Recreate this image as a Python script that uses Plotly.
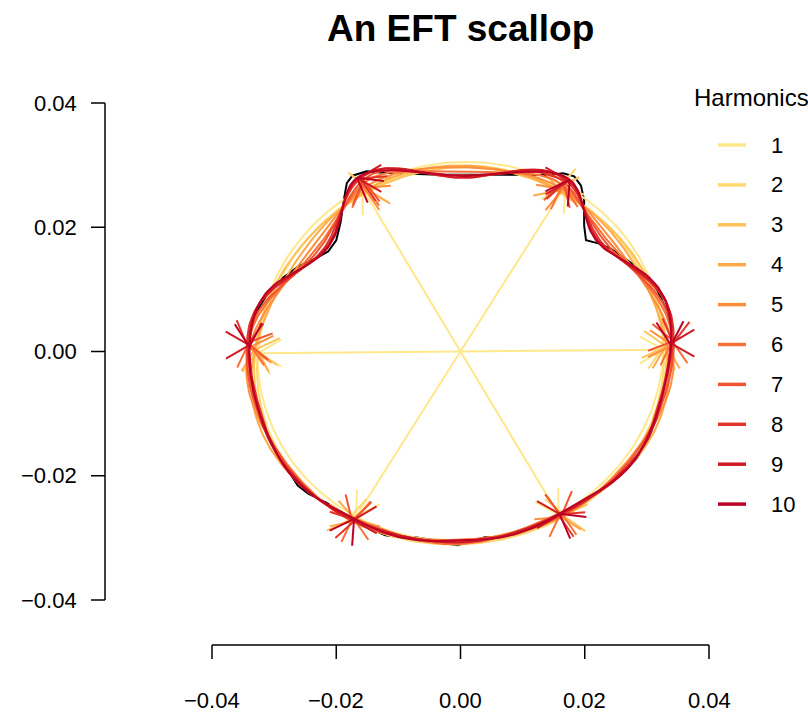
import numpy as np
import plotly.graph_objects as go

# ---- outline of the scallop (x, y), traced counter-clockwise from the right ----
outline_x = [0.0343, 0.0340, 0.0332, 0.0317, 0.0298, 0.0270, 0.0241, 0.0222, 0.0202,
             0.0199, 0.0199, 0.0194, 0.0183, 0.0165, 0.0141, 0.0095, 0.0048, 0.0000,
             -0.0048, -0.0097, -0.0129, -0.0151, -0.0174, -0.0183, -0.0188, -0.0193,
             -0.0200, -0.0213, -0.0233, -0.0261, -0.0287, -0.0309, -0.0325, -0.0336,
             -0.0341, -0.0341, -0.0336, -0.0328, -0.0317, -0.0304, -0.0288, -0.0272,
             -0.0262, -0.0245, -0.0217, -0.0185, -0.0153, -0.0121, -0.0097, -0.0072,
             -0.0048, -0.0024, -0.0004, 0.0015, 0.0039, 0.0063, 0.0087, 0.0111,
             0.0140, 0.0168, 0.0200, 0.0232, 0.0259, 0.0282, 0.0300, 0.0311, 0.0319,
             0.0327, 0.0335, 0.0342]
outline_y = [0.0011, 0.0034, 0.0066, 0.0098, 0.0124, 0.0146, 0.0166, 0.0174, 0.0179,
             0.0203, 0.0243, 0.0267, 0.0282, 0.0287, 0.0284, 0.0284, 0.0285, 0.0285,
             0.0285, 0.0287, 0.0288, 0.0290, 0.0283, 0.0271, 0.0243, 0.0208, 0.0179,
             0.0161, 0.0150, 0.0137, 0.0118, 0.0095, 0.0070, 0.0043, 0.0010, -0.0022,
             -0.0054, -0.0086, -0.0118, -0.0150, -0.0177, -0.0200, -0.0216, -0.0229,
             -0.0243, -0.0262, -0.0282, -0.0296, -0.0299, -0.0299, -0.0303, -0.0309,
             -0.0312, -0.0306, -0.0299, -0.0299, -0.0295, -0.0287, -0.0274, -0.0258,
             -0.0239, -0.0219, -0.0198, -0.0174, -0.0147, -0.0118, -0.0086, -0.0054,
             -0.0027, -0.0004]

harmonics = list(range(1, 11))
harmonic_colors = ["#FFE88B", "#FFD872", "#FEC25A", "#FEAA4A", "#FD8F3C",
                   "#F87139", "#F15430", "#E2352A", "#CF1C24", "#BD0026"]
n_arrows = 6

tick_values = [-0.04, -0.02, 0.00, 0.02, 0.04]
tick_labels = ["\u22120.04", "\u22120.02", "0.00", "0.02", "0.04"]

# ---- canvas geometry: the whole figure is the plotting area, 1:1 aspect ----
W, H = 808, 713
PX_PER_UNIT = 6212.5
X0_PX, Y0_PX = 460.5, 351.5
x_range = [(0 - X0_PX) / PX_PER_UNIT, (W - X0_PX) / PX_PER_UNIT]
y_range = [(Y0_PX - H) / PX_PER_UNIT, (Y0_PX - 0) / PX_PER_UNIT]


def px_to_x(px):
    return (px - X0_PX) / PX_PER_UNIT


def py_to_y(py):
    return (Y0_PX - py) / PX_PER_UNIT


FONT = "Liberation Sans, Arial, Helvetica, sans-serif"


# ---- elliptic Fourier analysis (Kuhl & Giardina) ----
def efourier(x, y, nb_h):
    x = np.append(np.asarray(x, float), x[0])
    y = np.append(np.asarray(y, float), y[0])
    dx, dy = np.diff(x), np.diff(y)
    dt = np.hypot(dx, dy)
    t = np.concatenate([[0.0], np.cumsum(dt)])
    T = t[-1]
    phi = 2 * np.pi * t / T
    coefs = []
    for n in range(1, nb_h + 1):
        k = T / (2 * n * n * np.pi ** 2)
        dcos = np.cos(n * phi[1:]) - np.cos(n * phi[:-1])
        dsin = np.sin(n * phi[1:]) - np.sin(n * phi[:-1])
        coefs.append((k * np.sum(dx / dt * dcos), k * np.sum(dx / dt * dsin),
                      k * np.sum(dy / dt * dcos), k * np.sum(dy / dt * dsin)))
    return np.array(coefs)


def harmonic_xy(coef, n, s):
    a, b, c, d = coef
    return (a * np.cos(n * s) + b * np.sin(n * s),
            c * np.cos(n * s) + d * np.sin(n * s))


coefs = efourier(outline_x, outline_y, max(harmonics))

s_curve = np.linspace(0, 2 * np.pi, 361)
s_arrow = np.arange(n_arrows) * 2 * np.pi / n_arrows

fig = go.Figure()

# original outline
fig.add_trace(go.Scatter(x=outline_x + [outline_x[0]], y=outline_y + [outline_y[0]],
                         mode="lines", line=dict(color="black", width=2),
                         hoverinfo="skip", showlegend=False))

ARROW_LEN = 27 / PX_PER_UNIT
ARROW_ANG = np.deg2rad(30)

cum_curve_x = np.zeros_like(s_curve)
cum_curve_y = np.zeros_like(s_curve)
cum_arrow_x = np.zeros_like(s_arrow)
cum_arrow_y = np.zeros_like(s_arrow)

for i, n in enumerate(harmonics):
    col = harmonic_colors[i]
    hx, hy = harmonic_xy(coefs[i], n, s_curve)
    cum_curve_x = cum_curve_x + hx
    cum_curve_y = cum_curve_y + hy
    fig.add_trace(go.Scatter(x=cum_curve_x, y=cum_curve_y, mode="lines",
                             line=dict(color=col, width=2), name=str(n),
                             hoverinfo="skip", showlegend=False))

    # epicycle arrows: from the sum of the previous harmonics to the next sum
    ax, ay = harmonic_xy(coefs[i], n, s_arrow)
    start_x, start_y = cum_arrow_x.copy(), cum_arrow_y.copy()
    cum_arrow_x = cum_arrow_x + ax
    cum_arrow_y = cum_arrow_y + ay
    seg_x, seg_y = [], []
    for j in range(n_arrows):
        x0, y0, x1, y1 = start_x[j], start_y[j], cum_arrow_x[j], cum_arrow_y[j]
        ang = np.arctan2(y1 - y0, x1 - x0)
        seg_x += [x0, x1, None]
        seg_y += [y0, y1, None]
        for side in (-1, 1):
            bx = x1 - ARROW_LEN * np.cos(ang + side * ARROW_ANG)
            by = y1 - ARROW_LEN * np.sin(ang + side * ARROW_ANG)
            seg_x += [x1, bx, None]
            seg_y += [y1, by, None]
    fig.add_trace(go.Scatter(x=seg_x, y=seg_y, mode="lines",
                             line=dict(color=col, width=2),
                             hoverinfo="skip", showlegend=False))

shapes = []
annotations = []

# x axis (detached, R style)
xa_y = py_to_y(645)
tick_len = 14 / PX_PER_UNIT
shapes.append(dict(type="line", xref="x", yref="y", x0=tick_values[0], x1=tick_values[-1],
                   y0=xa_y, y1=xa_y, line=dict(color="black", width=1.5)))
for v, lab in zip(tick_values, tick_labels):
    shapes.append(dict(type="line", xref="x", yref="y", x0=v, x1=v, y0=xa_y,
                       y1=xa_y - tick_len, line=dict(color="black", width=1.5)))
    annotations.append(dict(x=v, y=py_to_y(700), xref="x", yref="y", text=lab,
                            showarrow=False, xanchor="center", yanchor="middle",
                            font=dict(family=FONT, size=22, color="black")))

# y axis
ya_x = px_to_x(105)
shapes.append(dict(type="line", xref="x", yref="y", x0=ya_x, x1=ya_x,
                   y0=tick_values[0], y1=tick_values[-1], line=dict(color="black", width=1.5)))
for v, lab in zip(tick_values, tick_labels):
    shapes.append(dict(type="line", xref="x", yref="y", x0=ya_x, x1=ya_x - tick_len,
                       y0=v, y1=v, line=dict(color="black", width=1.5)))
    annotations.append(dict(x=px_to_x(79), y=v, xref="x", yref="y", text=lab,
                            showarrow=False, xanchor="right", yanchor="middle",
                            font=dict(family=FONT, size=22, color="black")))

# legend
annotations.append(dict(x=px_to_x(692), y=py_to_y(97), xref="x", yref="y",
                        text="Harmonics", showarrow=False, xanchor="left",
                        yanchor="middle", font=dict(family=FONT, size=24, color="black")))
for i, n in enumerate(harmonics):
    yy = py_to_y(145 + 39.9 * i)
    shapes.append(dict(type="line", xref="x", yref="y", x0=px_to_x(718), x1=px_to_x(746),
                       y0=yy, y1=yy, line=dict(color=harmonic_colors[i], width=3.5)))
    annotations.append(dict(x=px_to_x(769), y=yy, xref="x", yref="y", text=str(n),
                            showarrow=False, xanchor="left", yanchor="middle",
                            font=dict(family=FONT, size=22, color="black")))

# title
annotations.append(dict(x=px_to_x(460.5), y=py_to_y(28), xref="x", yref="y",
                        text="<b>An EFT scallop</b>", showarrow=False,
                        xanchor="center", yanchor="middle",
                        font=dict(family=FONT, size=37, color="black")))

fig.update_layout(
    width=W, height=H, autosize=False,
    margin=dict(l=0, r=0, t=0, b=0, pad=0),
    paper_bgcolor="white", plot_bgcolor="white",
    xaxis=dict(range=x_range, visible=False, fixedrange=True),
    yaxis=dict(range=y_range, visible=False, fixedrange=True),
    shapes=shapes, annotations=annotations, showlegend=False,
)

fig.write_html("out.html")
